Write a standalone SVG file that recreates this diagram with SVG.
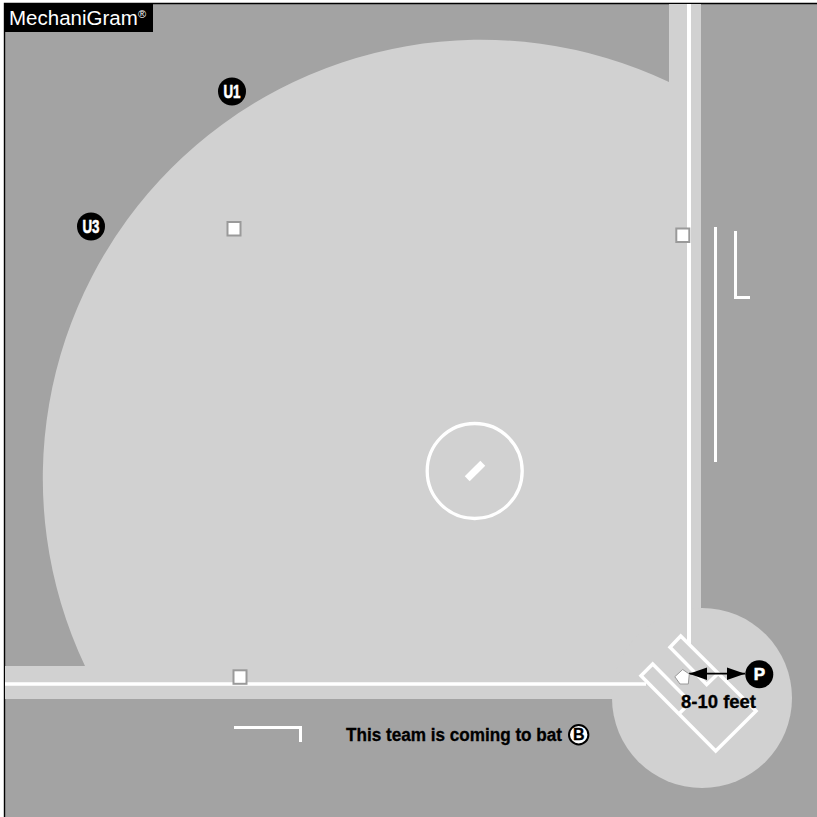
<svg xmlns="http://www.w3.org/2000/svg" width="817" height="817" viewBox="0 0 817 817">
<style>
.ln{fill:none;stroke:#fff;stroke-width:3}
.base{fill:#fff;stroke:#9a9a9a;stroke-width:2}
.b{font-family:"Liberation Sans",Arial,sans-serif;font-weight:700;stroke:#000;stroke-width:.3}
.lab{fill:#fff;text-anchor:middle;stroke:#fff;stroke-width:.6}
</style>
<defs>
<marker id="ah" markerUnits="userSpaceOnUse" markerWidth="19" markerHeight="13" refX="18" refY="6.500" orient="auto-start-reverse"><path d="M0 0.300L18 6.500L0 12.700Z" fill="#000"/></marker>
</defs>
<rect width="817" height="817" fill="#fff"/>
<rect x="5" y="4" width="812" height="813" fill="#a3a3a3"/>
<path d="M4.500 817V3.500H817" fill="none" stroke="#000" stroke-width="1.400"/>
<g id="field">
<path d="M669 4V82A438.500 438.500 0 0 0 85 666H5V699H701V4Z" fill="#d1d1d1"/>
<circle cx="702" cy="698" r="90" fill="#d1d1d1"/>
<path d="M689 4V644" class="ln" style="stroke-width:4"/>
<path d="M5 684H646" class="ln" style="stroke-width:3.500"/>
<circle cx="474.700" cy="471" r="47.500" class="ln" style="stroke-width:3.300"/>
<rect x="464" y="467.500" width="22" height="7" fill="#fff" transform="rotate(-45 475 471)"/>
<path d="M717.900 673.700L706.700 684.500L670 647.300L680.700 636L756 711L715.700 751L641 675.700L652.700 664L690.500 702.300L679.300 713.500" class="ln" style="stroke-width:3.500"/>
<path d="M715.500 227V462" class="ln"/>
<path d="M735.500 231V297.500H750" class="ln"/>
<path d="M234 727.500H300.500V742" class="ln"/>
</g>
<g id="connectors">
<path d="M689 673.700H745" fill="none" stroke="#000" stroke-width="1.800" marker-start="url(#ah)" marker-end="url(#ah)"/>
</g>
<g id="base-third"><rect x="227.500" y="222" width="13" height="13.500" class="base"/></g>
<g id="base-first"><rect x="676.300" y="228.500" width="13" height="13.500" class="base"/></g>
<g id="base-second"><rect x="233.500" y="670.300" width="13" height="13.500" class="base"/></g>
<g id="plate"><path d="M674.800 676.700L682.700 669.500L689.300 674L688.300 684H680Z" fill="#fff" stroke="#9a9a9a" stroke-width="1"/></g>
<g id="title">
<rect x="5" y="4" width="148" height="28" fill="#000"/>
<text x="9" y="25" font-family="Liberation Sans,Arial,sans-serif" font-size="20.500" fill="#fff">MechaniGram</text>
<text x="138" y="17.500" font-family="Liberation Sans,Arial,sans-serif" font-size="11" fill="#fff">®</text>
</g>
<g id="U1"><circle cx="232" cy="91.500" r="14" fill="#000"/><text x="232" y="98" class="b lab" font-size="18" textLength="17" lengthAdjust="spacingAndGlyphs">U1</text></g>
<g id="U3"><circle cx="91" cy="226.500" r="14" fill="#000"/><text x="91" y="233" class="b lab" font-size="18" textLength="17" lengthAdjust="spacingAndGlyphs">U3</text></g>
<g id="P"><circle cx="759.300" cy="674.300" r="14" fill="#000"/><text x="759.300" y="680.300" class="b lab" font-size="17">P</text></g>
<g id="distance"><text x="718.500" y="707.700" class="b" font-size="17.500" text-anchor="middle" textLength="75" lengthAdjust="spacingAndGlyphs">8-10 feet</text></g>
<g id="batting-note">
<text x="346" y="740.500" class="b" font-size="18" textLength="216" lengthAdjust="spacingAndGlyphs">This team is coming to bat</text>
<circle cx="578.700" cy="734.700" r="9.700" fill="#fff" stroke="#000" stroke-width="2"/>
<text x="578.700" y="740.300" class="b" font-size="16" text-anchor="middle">B</text>
</g>
</svg>
